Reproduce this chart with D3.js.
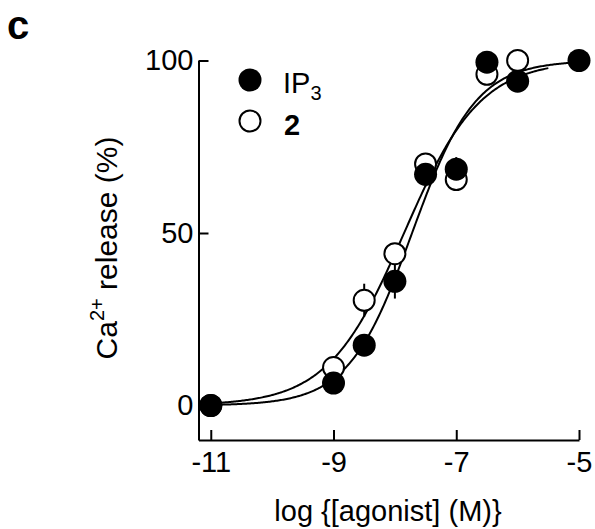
<!DOCTYPE html>
<html lang="en">
<head>
    <meta charset="utf-8">
    <title>Ca2+ release</title>
    <script src="https://d3js.org/d3.v7.min.js"></script>
    <style>
        body { margin: 0; background: #fff; }
        svg { font-family: "Liberation Sans", Arial, sans-serif; }
    </style>
</head>
<body>
    <svg id="chart" width="595" height="529"></svg>
    <script>
        // data
        var ip3Log = [-11, -9, -8.5, -8, -7.5, -7, -6.5, -6, -5];
        var ip3Val = [0, 6.5, 17.5, 36, 67, 68.5, 99.5, 94, 100];
        var ip3Err = [0, 1.5, 2, 5, 3.5, 3.5, 1.5, 2, 0];

        var cmpdLog = [-11, -9, -8.5, -8, -7.5, -7, -6.5, -6];
        var cmpdVal = [0, 11, 30.5, 44, 70, 65.5, 96, 100];
        var cmpdErr = [0, 1.5, 4.8, 3, 2, 2.5, 1.5, 1.5];

        // fitted Hill curves (logEC50, slope, range of the line)
        var ip3Fit = {ec50: -7.72, slope: 0.84, from: -11, to: -5};
        var cmpdFit = {ec50: -7.85, slope: 0.70, from: -11, to: -5.5};

        var xTicks = [-11, -9, -7, -5];
        var yTicks = [0, 50, 100];

        var svg = d3.select("#chart");

        var x = d3.scaleLinear().domain([-11.2, -5]).range([198.5, 579]);
        var y = d3.scaleLinear().domain([-10, 100]).range([440, 60.5]);

        // axes, ticks pointing inwards
        var xAxis = svg.append("g")
            .attr("transform", "translate(0,440)")
            .call(d3.axisBottom(x).tickValues(xTicks).tickSizeInner(-10).tickSizeOuter(0).tickPadding(11)
                .tickFormat(function(d) { return d; }));
        xAxis.select(".domain").attr("stroke-width", 2);
        xAxis.selectAll(".tick line").attr("stroke-width", 2);
        xAxis.selectAll("text").attr("font-size", 29).attr("fill", "#000")
            .attr("font-family", "Liberation Sans, Arial, sans-serif");

        var yAxis = svg.append("g")
            .attr("transform", "translate(198.5,0)")
            .call(d3.axisLeft(y).tickValues(yTicks).tickSizeInner(-10).tickSizeOuter(0).tickPadding(5));
        yAxis.select(".domain").attr("stroke-width", 2);
        yAxis.selectAll(".tick line").attr("stroke-width", 2);
        yAxis.selectAll("text").attr("font-size", 29).attr("fill", "#000")
            .attr("font-family", "Liberation Sans, Arial, sans-serif");

        // fitted curves
        function hill(fit) {
            return d3.range(fit.from, fit.to + 0.001, 0.02).map(function(v) {
                return [v, 100 / (1 + Math.pow(10, (fit.ec50 - v) * fit.slope))];
            });
        }
        var line = d3.line().x(function(d) { return x(d[0]); }).y(function(d) { return y(d[1]); });
        [ip3Fit, cmpdFit].forEach(function(f) {
            svg.append("path")
                .attr("d", line(hill(f)))
                .attr("fill", "none")
                .attr("stroke", "#000")
                .attr("stroke-width", 2);
        });

        function series(xs, vs, es) {
            return xs.map(function(v, i) { return {x: v, y: vs[i], e: es[i]}; });
        }
        var ip3Data = series(ip3Log, ip3Val, ip3Err);
        var cmpdData = series(cmpdLog, cmpdVal, cmpdErr);

        // error bars
        svg.selectAll(".err")
            .data(cmpdData.concat(ip3Data).filter(function(d) { return d.e > 0; }))
            .enter().append("line")
            .attr("x1", function(d) { return x(d.x); })
            .attr("x2", function(d) { return x(d.x); })
            .attr("y1", function(d) { return y(d.y - d.e); })
            .attr("y2", function(d) { return y(d.y + d.e); })
            .attr("stroke", "#000")
            .attr("stroke-width", 2);

        // compound 2 (open) under IP3 (filled)
        svg.selectAll(".open")
            .data(cmpdData)
            .enter().append("circle")
            .attr("cx", function(d) { return x(d.x); })
            .attr("cy", function(d) { return y(d.y); })
            .attr("r", 10.5)
            .attr("fill", "#fff")
            .attr("stroke", "#000")
            .attr("stroke-width", 2);

        svg.selectAll(".filled")
            .data(ip3Data)
            .enter().append("circle")
            .attr("cx", function(d) { return x(d.x); })
            .attr("cy", function(d) { return y(d.y); })
            .attr("r", 11.5)
            .attr("fill", "#000");

        // legend
        svg.append("circle").attr("cx", 250).attr("cy", 80).attr("r", 11.5).attr("fill", "#000");
        svg.append("circle").attr("cx", 250).attr("cy", 121).attr("r", 10.5)
            .attr("fill", "#fff").attr("stroke", "#000").attr("stroke-width", 2);
        var lg = svg.append("text").attr("x", 283).attr("y", 93).attr("font-size", 29);
        lg.append("tspan").text("IP");
        lg.append("tspan").attr("font-size", 20).attr("dy", 7).text("3");
        svg.append("text").attr("x", 284).attr("y", 135).attr("font-size", 29)
            .attr("font-weight", "bold").text("2");

        // axis titles
        svg.append("text")
            .attr("x", 388).attr("y", 521)
            .attr("text-anchor", "middle")
            .attr("font-size", 29)
            .text("log {[agonist] (M)}");

        var yl = svg.append("text")
            .attr("transform", "translate(117,248) rotate(-90)")
            .attr("text-anchor", "middle")
            .attr("font-size", 30);
        yl.append("tspan").text("Ca");
        yl.append("tspan").attr("font-size", 20).attr("dy", -13).text("2+");
        yl.append("tspan").attr("dy", 13).text(" release (%)");

        // panel letter
        svg.append("text").attr("x", 7).attr("y", 39)
            .attr("font-size", 40).attr("font-weight", "bold").text("c");
    </script>
</body>
</html>
